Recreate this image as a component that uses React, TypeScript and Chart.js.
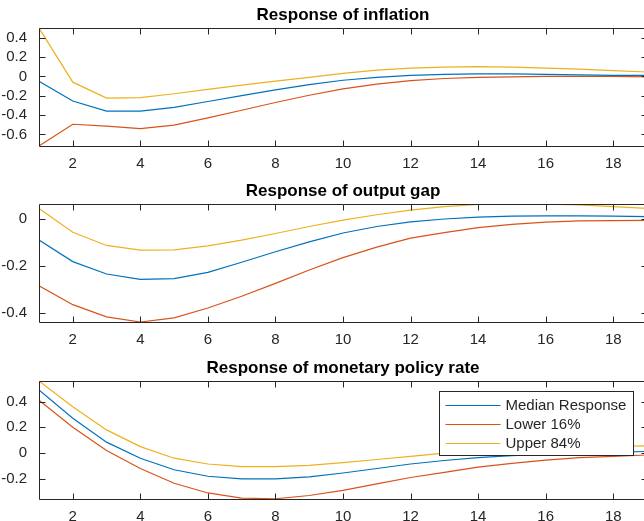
import React, { useEffect, useRef } from "react";
import { Chart, registerables } from "chart.js";

Chart.register(...registerables);

// ---------- data ----------
const steps = [1, 2, 3, 4, 5, 6, 7, 8, 9, 10, 11, 12, 13, 14, 15, 16, 17, 18, 19];
const xTicks = [2, 4, 6, 8, 10, 12, 14, 16, 18];

const seriesLabels = ["Median Response", "Lower 16%", "Upper 84%"];
const seriesColors = ["#0072BD", "#D95319", "#EDB120"];

const panelTitles = [
  "Response of inflation",
  "Response of output gap",
  "Response of monetary policy rate",
];

const inflationMedian = [-0.05, -0.255, -0.36, -0.36, -0.32, -0.26, -0.2, -0.14, -0.085, -0.04, -0.01, 0.01, 0.02, 0.025, 0.025, 0.02, 0.015, 0.01, 0.01];
const inflationLower = [-0.72, -0.495, -0.515, -0.54, -0.505, -0.43, -0.35, -0.27, -0.195, -0.13, -0.08, -0.045, -0.022, -0.01, -0.005, 0.0, 0.0, 0.0, -0.005];
const inflationUpper = [0.5, -0.06, -0.225, -0.22, -0.18, -0.135, -0.09, -0.05, -0.01, 0.03, 0.065, 0.085, 0.095, 0.1, 0.095, 0.085, 0.075, 0.06, 0.045];

const outputMedian = [-0.09, -0.182, -0.235, -0.258, -0.255, -0.228, -0.185, -0.14, -0.098, -0.06, -0.032, -0.012, 0.0, 0.008, 0.012, 0.013, 0.013, 0.012, 0.01];
const outputLower = [-0.285, -0.366, -0.418, -0.44, -0.422, -0.38, -0.33, -0.275, -0.218, -0.165, -0.12, -0.082, -0.058, -0.037, -0.023, -0.013, -0.008, -0.007, -0.006];
const outputUpper = [0.045, -0.057, -0.113, -0.133, -0.132, -0.115, -0.09, -0.062, -0.032, -0.005, 0.018, 0.038, 0.053, 0.062, 0.065, 0.063, 0.06, 0.053, 0.045];

const rateMedian = [0.49, 0.27, 0.085, -0.04, -0.13, -0.18, -0.2, -0.2, -0.185, -0.155, -0.12, -0.085, -0.058, -0.035, -0.02, -0.008, 0.0, 0.008, 0.012];
const rateLower = [0.41, 0.2, 0.02, -0.12, -0.235, -0.31, -0.35, -0.355, -0.33, -0.29, -0.24, -0.19, -0.15, -0.11, -0.08, -0.055, -0.035, -0.025, -0.015];
const rateUpper = [0.56, 0.36, 0.18, 0.05, -0.04, -0.085, -0.105, -0.105, -0.095, -0.075, -0.05, -0.025, 0.0, 0.015, 0.03, 0.04, 0.048, 0.052, 0.056];

const panelSeries = [
  [inflationMedian, inflationLower, inflationUpper],
  [outputMedian, outputLower, outputUpper],
  [rateMedian, rateLower, rateUpper],
];

const yMins = [-0.72, -0.44, -0.357];
const yMaxs = [0.5, 0.064, 0.56];
const yTickSets = [
  [-0.6, -0.4, -0.2, 0, 0.2, 0.4],
  [-0.4, -0.2, 0],
  [-0.2, 0, 0.2, 0.4],
];

// ---------- styling ----------
const FONT = "'Liberation Sans', Arial, Helvetica, sans-serif";
const AXIS_COLOR = "#262626";
const CANVAS_W = 652;
const CANVAS_H = 176;
const panelTops = [0, 176, 353];

function fmtTick(v: number): string {
  const r = Math.round(v * 10) / 10;
  return r === 0 ? "0" : String(r);
}

function makeAxesPlugin(showLegend: boolean) {
  return {
    id: "matlabAxes",
    afterDatasetsDraw(chart: any) {
      const { ctx, chartArea: a, scales } = chart;
      const L = Math.round(a.left) + 0.5;
      const R = Math.round(a.right) + 0.5;
      const T = Math.round(a.top) + 0.5;
      const B = Math.round(a.bottom) + 0.5;
      const tl = 6;
      ctx.save();
      ctx.strokeStyle = AXIS_COLOR;
      ctx.lineWidth = 1;
      ctx.beginPath();
      ctx.rect(L, T, R - L, B - T);
      scales.x.ticks.forEach((t: any) => {
        const px = Math.round(scales.x.getPixelForValue(t.value)) + 0.5;
        ctx.moveTo(px, B);
        ctx.lineTo(px, B - tl);
        ctx.moveTo(px, T);
        ctx.lineTo(px, T + tl);
      });
      scales.y.ticks.forEach((t: any) => {
        const py = Math.round(scales.y.getPixelForValue(t.value)) + 0.5;
        ctx.moveTo(L, py);
        ctx.lineTo(L + tl, py);
        ctx.moveTo(R, py);
        ctx.lineTo(R - tl, py);
      });
      ctx.stroke();
      ctx.restore();
    },
    afterDraw(chart: any) {
      if (!showLegend) return;
      const { ctx, chartArea: a } = chart;
      const ds = chart.data.datasets;
      ctx.save();
      ctx.font = `15px ${FONT}`;
      const textW = Math.max(...ds.map((d: any) => ctx.measureText(d.label).width));
      const padL = 6, sample = 55, gap = 5, padR = 7;
      const w = Math.round(padL + sample + gap + textW + padR);
      const h = 64;
      const right = Math.round(a.right - 14) + 0.5;
      const left = right - w;
      const top = Math.round(a.top + 10) + 0.5;
      ctx.fillStyle = "#ffffff";
      ctx.fillRect(left, top, w, h);
      ctx.strokeStyle = AXIS_COLOR;
      ctx.lineWidth = 1;
      ctx.strokeRect(left, top, w, h);
      ds.forEach((d: any, i: number) => {
        const y = Math.round(top + 13 + i * 19) + 0.5;
        ctx.strokeStyle = d.borderColor;
        ctx.lineWidth = 1.2;
        ctx.beginPath();
        ctx.moveTo(left + padL, y);
        ctx.lineTo(left + padL + sample, y);
        ctx.stroke();
        ctx.fillStyle = AXIS_COLOR;
        ctx.textAlign = "left";
        ctx.textBaseline = "middle";
        ctx.fillText(d.label, left + padL + sample + gap, y);
      });
      ctx.restore();
    },
  };
}

function Panel({ index }: { index: number }) {
  const ref = useRef<HTMLCanvasElement | null>(null);

  useEffect(() => {
    const canvas = ref.current;
    if (!canvas) return;
    const datasets = panelSeries[index].map((vals, i) => ({
      label: seriesLabels[i],
      data: vals.map((v, k) => ({ x: steps[k], y: v })),
      borderColor: seriesColors[i],
      backgroundColor: seriesColors[i],
      borderWidth: 1.2,
      pointRadius: 0,
      pointHoverRadius: 0,
      fill: false,
      tension: 0,
    }));
    const yTicks = yTickSets[index];
    const chart = new Chart(canvas, {
      type: "line",
      data: { datasets },
      options: {
        animation: false,
        responsive: false,
        devicePixelRatio: 1,
        events: [],
        layout: { padding: { left: 0, right: 5, top: 0, bottom: 0 } },
        plugins: {
          legend: { display: false },
          tooltip: { enabled: false },
          title: {
            display: true,
            fullSize: false,
            text: panelTitles[index],
            color: "#000000",
            font: { family: FONT, size: 17, weight: "bold", lineHeight: 1.2 },
            padding: { top: 5.6, bottom: 2 },
          },
        },
        scales: {
          x: {
            type: "linear",
            min: 1,
            max: 19,
            grid: { display: false },
            border: { display: false },
            afterBuildTicks: (scale: any) => {
              scale.ticks = xTicks.map((v) => ({ value: v }));
            },
            afterFit: (scale: any) => {
              scale.height = 30;
            },
            ticks: {
              color: AXIS_COLOR,
              font: { family: FONT, size: 15 },
              padding: 0.5,
              maxRotation: 0,
              autoSkip: false,
              callback: (v: any) => String(v),
            },
          },
          y: {
            type: "linear",
            min: yMins[index],
            max: yMaxs[index],
            grid: { display: false },
            border: { display: false },
            afterBuildTicks: (scale: any) => {
              scale.ticks = yTicks.map((v) => ({ value: v }));
            },
            afterFit: (scale: any) => {
              scale.width = 39;
            },
            ticks: {
              color: AXIS_COLOR,
              font: { family: FONT, size: 15 },
              padding: 4,
              autoSkip: false,
              callback: (v: any) => fmtTick(Number(v)),
            },
          },
        },
      } as any,
      plugins: [makeAxesPlugin(index === 2)],
    });
    return () => chart.destroy();
  }, [index]);

  return (
    <canvas
      ref={ref}
      width={CANVAS_W}
      height={CANVAS_H}
      style={{
        position: "absolute",
        left: 0,
        top: panelTops[index],
        width: CANVAS_W,
        height: CANVAS_H,
        display: "block",
      }}
    />
  );
}

export default function App() {
  return (
    <div
      style={{
        position: "fixed",
        left: 0,
        top: 0,
        width: 644,
        height: 521,
        overflow: "hidden",
        background: "#ffffff",
      }}
    >
      {[0, 1, 2].map((i) => (
        <Panel key={i} index={i} />
      ))}
    </div>
  );
}
